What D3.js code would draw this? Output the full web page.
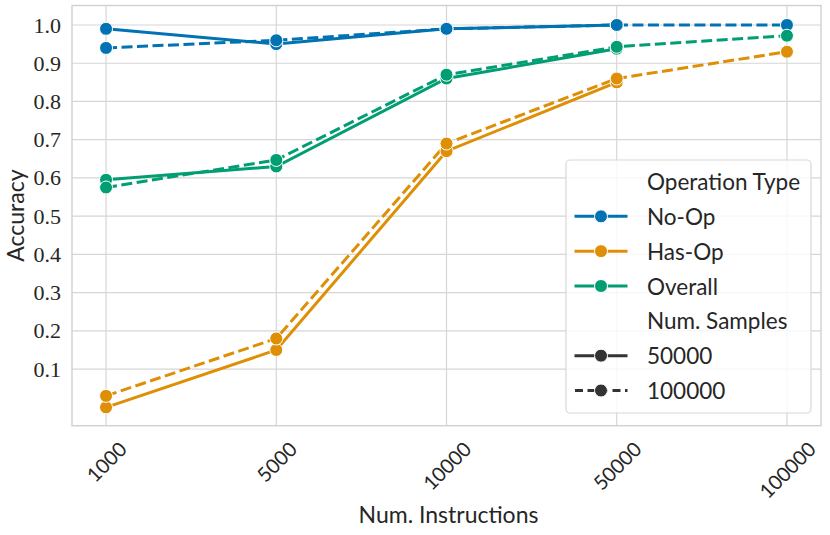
<!DOCTYPE html>
<html>
<head>
<meta charset="utf-8">
<script src="https://cdn.jsdelivr.net/npm/d3@7"></script>
<style>
  body { margin: 0; background: #fff; }
  text { fill: #262626; }
  .ytick text { font-family: "Liberation Serif", "Times New Roman", "DejaVu Serif", serif; font-size: 22px; }
</style>
</head>
<body>
<svg id="chart" width="830" height="535"></svg>
<script>
// data
var instructions = ['1000', '5000', '10000', '50000', '100000'];
var opTypes = ['No-Op', 'Has-Op', 'Overall'];
var sampleSizes = ['50000', '100000'];
var yTicks = [0.1, 0.2, 0.3, 0.4, 0.5, 0.6, 0.7, 0.8, 0.9, 1.0];

// 50000 samples (no run at 100000 instructions)
var noOp50k    = [0.99, 0.95, 0.99, 1.0, null];
var hasOp50k   = [0.0, 0.15, 0.67, 0.85, null];
var overall50k = [0.595, 0.63, 0.86, 0.938, null];
// 100000 samples
var noOp100k    = [0.94, 0.96, 0.99, 1.0, 1.0];
var hasOp100k   = [0.03, 0.18, 0.69, 0.86, 0.93];
var overall100k = [0.575, 0.647, 0.87, 0.943, 0.972];

var colors = ['#0173b2', '#de8f05', '#029e73'];
var series = [
  { type: 0, dash: 0, vals: noOp50k },
  { type: 0, dash: 1, vals: noOp100k },
  { type: 1, dash: 0, vals: hasOp50k },
  { type: 1, dash: 1, vals: hasOp100k },
  { type: 2, dash: 0, vals: overall50k },
  { type: 2, dash: 1, vals: overall100k }
];

var svg = d3.select('#chart');
var plotL = 72, plotR = 821, plotT = 5.5, plotB = 425.7;
var sansFont = 'Lato, "Noto Sans", sans-serif';

var x = d3.scaleLinear().domain([-0.2, 4.2]).range([plotL, plotR]);
var y = d3.scaleLinear().domain([-0.048, 1.051]).range([plotB, plotT]);

// grid
var grid = svg.append('g');
grid.selectAll('line.gx').data(instructions).enter().append('line')
    .attr('x1', function(d, i) { return x(i); }).attr('x2', function(d, i) { return x(i); })
    .attr('y1', plotT).attr('y2', plotB)
    .attr('stroke', '#d6d6d6').attr('stroke-width', 1.2);
grid.selectAll('line.gy').data(yTicks).enter().append('line')
    .attr('x1', plotL).attr('x2', plotR)
    .attr('y1', function(d) { return y(d); }).attr('y2', function(d) { return y(d); })
    .attr('stroke', '#d6d6d6').attr('stroke-width', 1.2);
svg.append('rect').attr('x', plotL).attr('y', plotT)
    .attr('width', plotR - plotL).attr('height', plotB - plotT)
    .attr('fill', 'none').attr('stroke', '#d0d0d0').attr('stroke-width', 1.4);

// y axis labels (serif, like the LaTeX digits)
var yAxis = d3.axisLeft(y).tickValues(yTicks).tickSize(0).tickPadding(11)
    .tickFormat(d3.format('.1f'));
var yg = svg.append('g').attr('class', 'ytick')
    .attr('transform', 'translate(' + plotL + ',0)').call(yAxis);
yg.select('.domain').remove();
yg.attr('font-family', null).attr('font-size', null);
yg.selectAll('text').attr('fill', '#262626');

// x tick labels, rotated 45deg, centred on tick like matplotlib
var xl = svg.append('g');
xl.selectAll('text').data(instructions).enter().append('text')
    .style('font-family', sansFont).style('font-size', '20px')
    .attr('text-anchor', 'middle').attr('dominant-baseline', 'central')
    .text(function(d) { return d; })
    .attr('transform', function(d, i) {
      var len = this.getComputedTextLength();
      var h = 14;
      var cy = 440 + (len + h) / (2 * Math.SQRT2);
      return 'translate(' + x(i) + ',' + cy + ') rotate(-45)';
    });

// axis titles
svg.append('text').attr('x', (plotL + plotR) / 2 + 2).attr('y', 523)
    .attr('text-anchor', 'middle').style('font-family', sansFont).style('font-size', '23px')
    .text('Num. Instructions');
svg.append('text').attr('transform', 'translate(24,' + ((plotT + plotB) / 2) + ') rotate(-90)')
    .attr('text-anchor', 'middle').style('font-family', sansFont).style('font-size', '23px')
    .text('Accuracy');

// lines
var line = d3.line()
    .defined(function(d) { return d != null; })
    .x(function(d, i) { return x(i); })
    .y(function(d) { return y(d); });

var dashes = [null, '11,4.5'];
var lines = svg.append('g');
series.forEach(function(s) {
  lines.append('path').datum(s.vals)
      .attr('d', line)
      .attr('fill', 'none')
      .attr('stroke', colors[s.type])
      .attr('stroke-width', 3)
      .attr('stroke-dasharray', dashes[s.dash]);
});
series.forEach(function(s) {
  lines.selectAll(null).data(s.vals.map(function(v, i) { return { v: v, i: i }; })
      .filter(function(d) { return d.v != null; }))
    .enter().append('circle')
      .attr('cx', function(d) { return x(d.i); })
      .attr('cy', function(d) { return y(d.v); })
      .attr('r', 6.5)
      .attr('fill', colors[s.type])
      .attr('stroke', '#fff').attr('stroke-width', 1);
});

// legend
var lg = svg.append('g');
lg.append('rect').attr('x', 566).attr('y', 160).attr('width', 245).attr('height', 253)
    .attr('rx', 4).attr('fill', '#fff').attr('fill-opacity', 0.8)
    .attr('stroke', '#d8d8d8').attr('stroke-width', 1.2);

var legendRows = [
  { label: 'Operation Type', title: true },
  { label: opTypes[0], color: colors[0], dash: null },
  { label: opTypes[1], color: colors[1], dash: null },
  { label: opTypes[2], color: colors[2], dash: null },
  { label: 'Num. Samples', title: true },
  { label: sampleSizes[0], color: '#333333', dash: null },
  { label: sampleSizes[1], color: '#333333', dash: '11,4.5' }
];
var rowY = d3.scaleLinear().domain([0, 6]).range([181.5, 390.5]);
legendRows.forEach(function(r, i) {
  var cy = rowY(i);
  if (!r.title) {
    lg.append('line').attr('x1', 574.5).attr('x2', 627.5).attr('y1', cy).attr('y2', cy)
        .attr('stroke', r.color).attr('stroke-width', 3)
        .attr('stroke-dasharray', r.dash ? '8,4.5' : null)
        .attr('stroke-dashoffset', r.dash ? -0.5 : null);
    lg.append('circle').attr('cx', 601).attr('cy', cy).attr('r', 6.5)
        .attr('fill', r.color).attr('stroke', '#fff').attr('stroke-width', 1);
  }
  lg.append('text').attr('x', 647).attr('y', cy).attr('dominant-baseline', 'central')
      .style('font-family', sansFont).style('font-size', '22.5px')
      .text(r.label);
});
</script>
</body>
</html>
